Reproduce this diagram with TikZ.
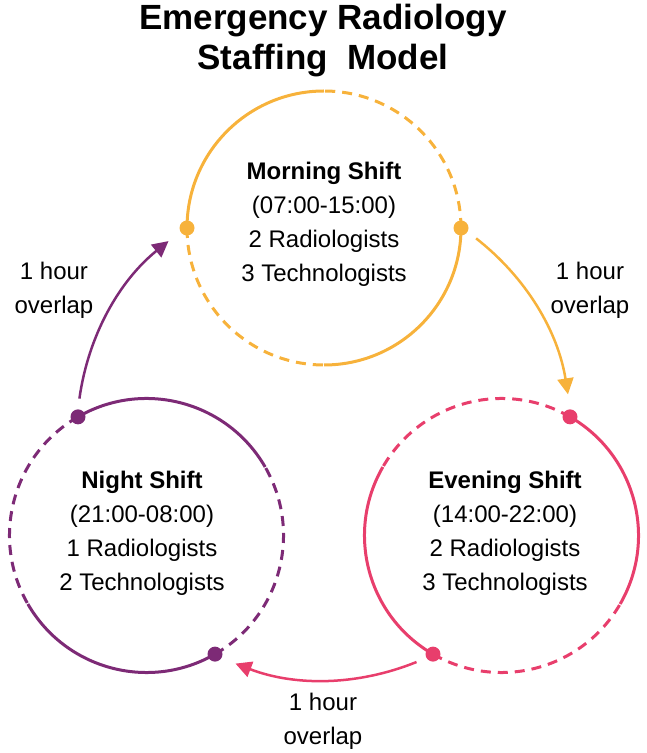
\documentclass[tikz,border=0pt]{standalone}
\usepackage{fontspec}
\setmainfont{Liberation Sans}
\usetikzlibrary{arrows.meta}
\definecolor{morn}{HTML}{F7B23B}
\definecolor{even}{HTML}{E83E6C}
\definecolor{nite}{HTML}{7D2A76}
\begin{document}
\begin{tikzpicture}[x=1pt,y=1pt,
  ring/.style={line width=3pt},
  dashring/.style={line width=3pt, dash pattern=on 10pt off 7pt},
  dotmark/.style={circle, inner sep=0pt, minimum size=15pt},
  flow/.style={line width=2.5pt, -{Triangle[length=16pt,width=16pt]}},
  lbl/.style={font=\fontsize{24}{34}\selectfont, align=center, text=black},
  ttl/.style={font=\fontsize{35}{40}\selectfont\bfseries, align=center}]
\useasboundingbox (0,0) rectangle (646,753);
\coordinate (C) at (324,320);
% Morning
\coordinate (Mc) at (324,525);
\draw[ring, morn] ([shift={(90:137)}]Mc) arc[start angle=90,end angle=180,radius=137];
\draw[ring, morn] ([shift={(270:137)}]Mc) arc[start angle=270,end angle=360,radius=137];
\draw[dashring, morn] ([shift={(0:137)}]Mc) arc[start angle=0,end angle=90,radius=137];
\draw[dashring, morn] ([shift={(180:137)}]Mc) arc[start angle=180,end angle=270,radius=137];
\node[dotmark, fill=morn] (Md1) at ([shift={(0:137)}]Mc) {};
\node[dotmark, fill=morn] (Md2) at ([shift={(180:137)}]Mc) {};
\node[lbl] (Mt) at (324,529) {\textbf{Morning Shift}\\(07:00-15:00)\\2 Radiologists\\3 Technologists};
% Evening
\coordinate (Ec) at (501.5,217.5);
\draw[ring, even] ([shift={(150:137)}]Ec) arc[start angle=150,end angle=240,radius=137];
\draw[ring, even] ([shift={(330:137)}]Ec) arc[start angle=330,end angle=420,radius=137];
\draw[dashring, even] ([shift={(60:137)}]Ec) arc[start angle=60,end angle=150,radius=137];
\draw[dashring, even] ([shift={(240:137)}]Ec) arc[start angle=240,end angle=330,radius=137];
\node[dotmark, fill=even] (Ed1) at ([shift={(60:137)}]Ec) {};
\node[dotmark, fill=even] (Ed2) at ([shift={(240:137)}]Ec) {};
\node[lbl] (Et) at (505,220) {\textbf{Evening Shift}\\(14:00-22:00)\\2 Radiologists\\3 Technologists};
% Night
\coordinate (Nc) at (146.5,217.5);
\draw[ring, nite] ([shift={(210:137)}]Nc) arc[start angle=210,end angle=300,radius=137];
\draw[ring, nite] ([shift={(30:137)}]Nc) arc[start angle=30,end angle=120,radius=137];
\draw[dashring, nite] ([shift={(120:137)}]Nc) arc[start angle=120,end angle=210,radius=137];
\draw[dashring, nite] ([shift={(300:137)}]Nc) arc[start angle=300,end angle=390,radius=137];
\node[dotmark, fill=nite] (Nd1) at ([shift={(120:137)}]Nc) {};
\node[dotmark, fill=nite] (Nd2) at ([shift={(300:137)}]Nc) {};
\node[lbl] (Nt) at (142,220) {\textbf{Night Shift}\\(21:00-08:00)\\1 Radiologists\\2 Technologists};
% Overlap arrows
\coordinate (a1s) at ([shift={(52:247)}]C);
\coordinate (a1e) at ([shift={(9:247)}]C);
\coordinate (a2s) at ([shift={(-68:247)}]C);
\coordinate (a2e) at ([shift={(-111:247)}]C);
\coordinate (a3s) at ([shift={(172:247)}]C);
\coordinate (a3e) at ([shift={(129:247)}]C);
\draw[flow, morn] (a1s) to[bend left=21.5, looseness=0.9] (a1e);
\draw[flow, even] (a2s) to[bend left=21.5, looseness=0.9] (a2e);
\draw[flow, nite] (a3s) to[bend left=21.5, looseness=0.9] (a3e);
\node[lbl] (L1) at (590,463) {1 hour\\overlap};
\node[lbl] (L2) at (323,32) {1 hour\\overlap};
\node[lbl] (L3) at (54,463) {1 hour\\overlap};
% Title
\node[ttl] (T) at (323,712) {Emergency Radiology\\Staffing\ \ Model};
\end{tikzpicture}
\end{document}
